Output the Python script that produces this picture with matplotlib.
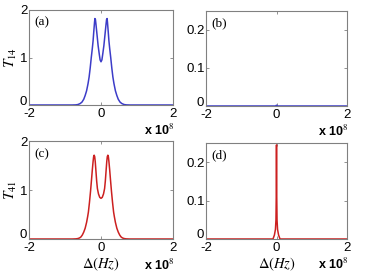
import matplotlib
matplotlib.use("Agg")
import matplotlib.pyplot as plt
from matplotlib.transforms import ScaledTranslation

# Detuning (units of 1e8 Hz) and transmission values
x_a = [-2.0, -0.8, -0.7, -0.64, -0.58, -0.53, -0.48, -0.44, -0.40, -0.36, -0.33, -0.30, -0.27, -0.24,
       -0.22, -0.20, -0.18, -0.17, -0.155, -0.14, -0.12, -0.10, -0.08, -0.05, -0.025, 0.0,
       0.025, 0.05, 0.08, 0.10, 0.12, 0.14, 0.155, 0.17, 0.18, 0.20, 0.22, 0.24, 0.27, 0.30,
       0.33, 0.36, 0.40, 0.44, 0.48, 0.53, 0.58, 0.64, 0.7, 0.8, 2.0]
T14 = [0.0, 0.0, 0.003, 0.01, 0.03, 0.06, 0.12, 0.2, 0.3, 0.45, 0.59, 0.78, 1.0, 1.2,
       1.35, 1.55, 1.74, 1.82, 1.8, 1.7, 1.55, 1.4, 1.25, 1.08, 0.95, 0.91,
       0.95, 1.08, 1.25, 1.4, 1.55, 1.7, 1.8, 1.82, 1.74, 1.55, 1.35, 1.2, 1.0, 0.78,
       0.59, 0.45, 0.3, 0.2, 0.12, 0.06, 0.03, 0.01, 0.003, 0.0, 0.0]

x_c = [-2.0, -0.8, -0.7, -0.65, -0.6, -0.56, -0.52, -0.48, -0.44, -0.40, -0.37, -0.35, -0.32, -0.29,
       -0.26, -0.24, -0.22, -0.205, -0.19, -0.175, -0.16, -0.14, -0.12, -0.10, -0.07, -0.035, 0.0,
       0.035, 0.07, 0.10, 0.12, 0.14, 0.16, 0.175, 0.19, 0.205, 0.22, 0.24, 0.26, 0.29, 0.32,
       0.35, 0.37, 0.40, 0.44, 0.48, 0.52, 0.56, 0.6, 0.65, 0.7, 0.8, 2.0]
T41 = [0.0, 0.0, 0.003, 0.008, 0.02, 0.04, 0.08, 0.14, 0.22, 0.34, 0.46, 0.55, 0.75, 0.98,
       1.24, 1.42, 1.58, 1.68, 1.71, 1.68, 1.58, 1.38, 1.18, 1.03, 0.92, 0.85, 0.83,
       0.85, 0.92, 1.03, 1.18, 1.38, 1.58, 1.68, 1.71, 1.68, 1.58, 1.42, 1.24, 0.98, 0.75,
       0.55, 0.46, 0.34, 0.22, 0.14, 0.08, 0.04, 0.02, 0.008, 0.003, 0.0, 0.0]

x_b = [-2.0, -0.03, 0.0, 0.03, 2.0]
T_b = [0.0, 0.0, 0.002, 0.0, 0.0]

x_d = [-2.0, -0.1, -0.06, -0.03, -0.015, -0.006, 0.0, 0.006, 0.015, 0.03, 0.06, 0.1, 2.0]
T_d = [0.0, 0.0, 0.01, 0.025, 0.05, 0.12, 0.245, 0.12, 0.05, 0.025, 0.01, 0.0, 0.0]

xticks = [-2, 0, 2]
yticks_big = [0, 1, 2]
yticks_small = [0, 0.1, 0.2]
panel_labels = ["(a)", "(b)", "(c)", "(d)"]

blue = "#3c3cc8"
red = "#cc2020"
spine_col = "#808080"

plt.rcParams['font.family'] = ['Liberation Sans', 'DejaVu Sans']
plt.rcParams['mathtext.fontset'] = 'stix'

fig = plt.figure(figsize=(3.66, 2.77), dpi=100)
W, H = 366.0, 277.0

def make_ax(l, r, t, b):
    return fig.add_axes([l / W, 1 - b / H, (r - l) / W, (b - t) / H])

ax_a = make_ax(29, 173, 10, 105)
ax_b = make_ax(206, 347, 11, 106)
ax_c = make_ax(29, 173, 141, 239)
ax_d = make_ax(206, 347, 143, 239)

specs = [
    (ax_a, x_a, T14, blue, (0, 2), yticks_big, ["0", "1", "2"]),
    (ax_b, x_b, T_b, blue, (0, 0.25), yticks_small, ["0", "0.1", "0.2"]),
    (ax_c, x_c, T41, red, (0, 2), yticks_big, ["0", "1", "2"]),
    (ax_d, x_d, T_d, red, (0, 0.25), yticks_small, ["0", "0.1", "0.2"]),
]

for (ax, xs, ys, col, ylim, yt, ytl), lab in zip(specs, panel_labels):
    ax.plot(xs, ys, color=col, lw=1.1, solid_joinstyle='round')
    ax.set_xlim(-2, 2)
    ax.set_ylim(*ylim)
    ax.set_xticks(xticks)
    ax.set_xticklabels(["-2", "0", "2"])
    ax.set_yticks(yt)
    ax.set_yticklabels(ytl)
    ax.tick_params(direction='in', length=2, width=0.6, color=spine_col,
                   labelsize=9.5, top=True, right=True)
    ax.tick_params(axis='x', pad=2)
    ax.tick_params(axis='y', pad=1)
    # lift the bottom y tick label, as in the reference
    t0 = ax.get_yticklabels()[0]
    t0.set_transform(t0.get_transform() + ScaledTranslation(-0.01, 5.0 / 100, fig.dpi_scale_trans))
    for s in ax.spines.values():
        s.set_color(spine_col)
        s.set_linewidth(0.8)
    ax.text(0.04, 0.93, lab, transform=ax.transAxes, ha='left', va='top',
            fontsize=9.5, family='Liberation Serif')
    ax.text(1.01, -0.19, r'x 10$^{8}$', transform=ax.transAxes, ha='right', va='top',
            fontsize=9, fontweight='bold')

ax_a.set_ylabel(r'$T_{14}$', fontsize=11, labelpad=0)
ax_c.set_ylabel(r'$T_{41}$', fontsize=11, labelpad=0)
ax_c.set_xlabel(r'$\Delta(Hz)$', fontsize=10.5, labelpad=1)
ax_d.set_xlabel(r'$\Delta(Hz)$', fontsize=10.5, labelpad=1)

fig.savefig("out.png", dpi=100)
